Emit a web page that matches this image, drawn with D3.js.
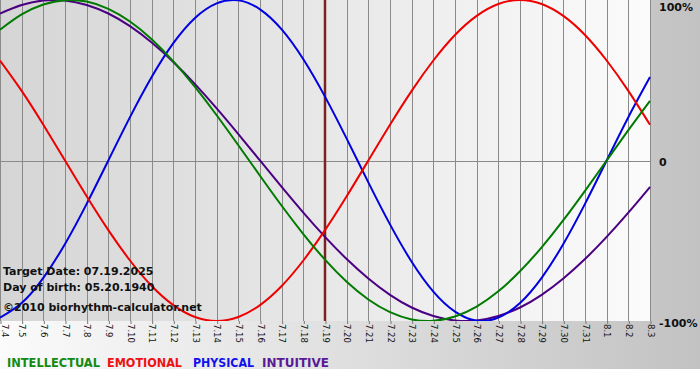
<!DOCTYPE html>
<html>
<head>
<meta charset="utf-8">
<script src="https://cdn.jsdelivr.net/npm/d3@7"></script>
<style>
  html, body { margin: 0; padding: 0; background: #ffffff; }
  svg { display: block; }
</style>
</head>
<body>
<div id="chart"></div>
<script>
// ---- data ----
const dayLabels = ["7.4","7.5","7.6","7.7","7.8","7.9","7.10","7.11","7.12","7.13","7.14","7.15","7.16","7.17","7.18","7.19","7.20","7.21","7.22","7.23","7.24","7.25","7.26","7.27","7.28","7.29","7.30","7.31","8.1","8.2","8.3"];
const intellectual = [0.815,0.910,0.972,0.999,0.990,0.945,0.866,0.756,0.618,0.458,0.282,0.095,-0.095,-0.282,-0.458,-0.618,-0.756,-0.866,-0.945,-0.990,-0.999,-0.972,-0.910,-0.815,-0.690,-0.541,-0.372,-0.189,0.000,0.189,0.372];
const emotional = [0.623,0.434,0.223,0.000,-0.223,-0.434,-0.623,-0.782,-0.901,-0.975,-1.000,-0.975,-0.901,-0.782,-0.623,-0.434,-0.223,0.000,0.223,0.434,0.623,0.782,0.901,0.975,1.000,0.975,0.901,0.782,0.623,0.434,0.223];
const physical = [-0.979,-0.888,-0.731,-0.520,-0.270,0.000,0.270,0.520,0.731,0.888,0.979,0.998,0.942,0.817,0.631,0.398,0.136,-0.136,-0.398,-0.631,-0.817,-0.942,-0.998,-0.979,-0.888,-0.731,-0.520,-0.270,0.000,0.270,0.520];
const intuitive = [0.916,0.969,0.997,0.997,0.969,0.916,0.837,0.735,0.614,0.476,0.325,0.165,0.000,-0.165,-0.325,-0.476,-0.614,-0.735,-0.837,-0.916,-0.969,-0.997,-0.997,-0.969,-0.916,-0.837,-0.735,-0.614,-0.476,-0.325,-0.165];
const seriesNames = ["INTELLECTUAL","EMOTIONAL","PHYSICAL","INTUITIVE"];
const yTickValues = [1, 0, -1];
const yTickLabels = ["100%", "0", "-100%"];
const targetIndex = 15;
const infoLines = ["Target Date: 07.19.2025", "Day of birth: 05.20.1940", "\u00A92010 biorhythm-calculator.net"];

// ---- layout ----
const W = 700, H = 380, chartH = 369;
const plotW = 651, plotH = 321;
const colors = { INTELLECTUAL: "#007a00", EMOTIONAL: "#ee0000", PHYSICAL: "#0000e0", INTUITIVE: "#4b0082" };
const legendColors = { INTELLECTUAL: "#138a13", EMOTIONAL: "#ee1111", PHYSICAL: "#1111ee", INTUITIVE: "#5a1a96" };
const seriesData = { INTELLECTUAL: intellectual, EMOTIONAL: emotional, PHYSICAL: physical, INTUITIVE: intuitive };

const svg = d3.select("#chart").append("svg").attr("width", W).attr("height", H);
const defs = svg.append("defs");

const bgGrad = defs.append("linearGradient").attr("id", "bgGrad").attr("x1", "0").attr("x2", "1").attr("y1", "0").attr("y2", "0");
bgGrad.append("stop").attr("offset", "0").attr("stop-color", "#fbfbfb");
bgGrad.append("stop").attr("offset", "1").attr("stop-color", "#c2c2c2");

const plotGrad = defs.append("linearGradient").attr("id", "plotGrad").attr("x1", "0").attr("x2", "1").attr("y1", "0").attr("y2", "0");
plotGrad.append("stop").attr("offset", "0").attr("stop-color", "#d5d5d5");
plotGrad.append("stop").attr("offset", "1").attr("stop-color", "#fbfbfb");

defs.append("clipPath").attr("id", "plotClip").append("rect").attr("x", 0).attr("y", 0).attr("width", plotW).attr("height", plotH);

svg.append("rect").attr("x", 0).attr("y", 0).attr("width", W).attr("height", chartH).attr("fill", "url(#bgGrad)");
svg.append("rect").attr("x", 0).attr("y", 0).attr("width", plotW).attr("height", plotH).attr("fill", "url(#plotGrad)");

const x = d3.scaleLinear().domain([0, dayLabels.length - 1]).range([0, 650]);
const y = d3.scaleLinear().domain([-1, 1]).range([plotH, 0]);

// vertical grid lines
svg.append("g").selectAll("line").data(dayLabels.map((d, i) => i)).join("line")
  .attr("x1", i => Math.round(x(i)) + 0.5).attr("x2", i => Math.round(x(i)) + 0.5)
  .attr("y1", 0).attr("y2", plotH)
  .attr("stroke", "#8a8a8a").attr("stroke-width", 1);

// zero line
svg.append("line").attr("x1", 0).attr("x2", plotW)
  .attr("y1", Math.round(y(0)) + 0.5).attr("y2", Math.round(y(0)) + 0.5)
  .attr("stroke", "#8a8a8a").attr("stroke-width", 1);

// target date line
svg.append("line").attr("x1", x(targetIndex)).attr("x2", x(targetIndex))
  .attr("y1", 0).attr("y2", plotH)
  .attr("stroke", "#7d2222").attr("stroke-width", 2.5);

// curves
const line = d3.line().x((d, i) => x(i)).y(d => y(d)).curve(d3.curveNatural);
const curves = svg.append("g").attr("clip-path", "url(#plotClip)");
["INTUITIVE", "PHYSICAL", "EMOTIONAL", "INTELLECTUAL"].forEach(name => {
  curves.append("path").datum(seriesData[name])
    .attr("d", line).attr("fill", "none")
    .attr("stroke", colors[name]).attr("stroke-width", 2)
    .attr("stroke-linejoin", "round");
});

// x axis
const xAxis = d3.axisBottom(x)
  .tickValues(dayLabels.map((d, i) => i))
  .tickFormat(i => dayLabels[i])
  .tickSize(3).tickSizeOuter(0);
const gx = svg.append("g").attr("transform", `translate(0,${plotH})`).call(xAxis);
gx.select(".domain").remove();
gx.selectAll(".tick line").attr("stroke", "#777").attr("transform", "translate(0.5,0)");
gx.selectAll(".tick text")
  .attr("transform", "rotate(90)")
  .attr("x", 3).attr("y", i => i === 0 ? -4 : 0).attr("dy", "0.35em")
  .style("text-anchor", "start")
  .attr("fill", "#111")
  .style("font-family", "'DejaVu Sans', Verdana, sans-serif")
  .style("font-size", "8.5px");

// y labels on the right
const yAxis = d3.axisRight(y).tickValues(yTickValues)
  .tickFormat(v => yTickLabels[yTickValues.indexOf(v)]).tickSize(0);
const gy = svg.append("g").attr("transform", `translate(659,0)`).call(yAxis);
gy.select(".domain").remove();
gy.selectAll(".tick text")
  .attr("x", 0)
  .attr("dy", v => v === 1 ? "10px" : "5px")
  .attr("fill", "#111")
  .style("text-anchor", "start")
  .style("font-family", "'DejaVu Sans', Verdana, sans-serif")
  .style("font-weight", "bold")
  .style("font-size", "11px");

// info text
svg.append("g").selectAll("text").data(infoLines).join("text")
  .attr("x", 3).attr("y", (d, i) => [275, 291, 311][i])
  .text(d => d)
  .attr("fill", "#111")
  .style("font-family", "'DejaVu Sans', Verdana, sans-serif")
  .style("font-weight", "bold")
  .style("font-size", "11px");

// legend
const legendX = [7, 107, 193, 262];
const legendW = [93, 75, 61, 67];
svg.append("g").selectAll("text").data(seriesNames).join("text")
  .attr("x", (d, i) => legendX[i]).attr("y", 367)
  .attr("textLength", (d, i) => legendW[i]).attr("lengthAdjust", "spacingAndGlyphs")
  .text(d => d)
  .attr("fill", d => legendColors[d])
  .style("font-family", "'DejaVu Sans', Verdana, sans-serif")
  .style("font-weight", "bold")
  .style("font-size", "13px");
</script>
</body>
</html>
